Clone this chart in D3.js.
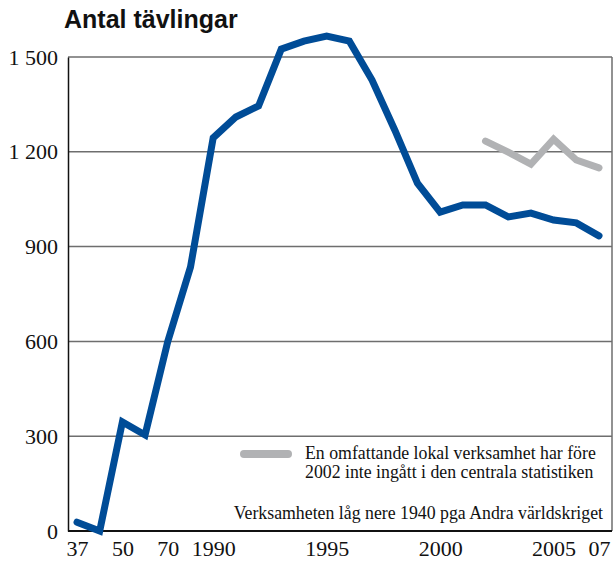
<!DOCTYPE html>
<html>
<head>
<meta charset="utf-8">
<script src="https://cdn.jsdelivr.net/npm/d3@7"></script>
<style>
  body { margin: 0; background: #fff; }
  svg { display: block; }
</style>
</head>
<body>
<div id="chart"></div>
<script>
// data
const years = ["1937", "1940", "1950", "1960", "1970", "1980", "1990", "1991", "1992", "1993", "1994", "1995",
  "1996", "1997", "1998", "1999", "2000", "2001", "2002", "2003", "2004", "2005", "2006", "2007"];
const total = [28, 0, 345, 304, 600, 835, 1244, 1310, 1345, 1525, 1550, 1566,
  1550, 1427, 1269, 1101, 1009, 1032, 1032, 994, 1006, 984, 975, 934];
const localYears = ["2002", "2003", "2004", "2005", "2006", "2007"];
const withLocal = [1234, 1199, 1161, 1240, 1174, 1149];
const xTickLabels = { "1937": "37", "1950": "50", "1970": "70", "1990": "1990", "1995": "1995", "2000": "2000", "2005": "2005", "2007": "07" };
const yTicks = [0, 300, 600, 900, 1200, 1500];

const width = 614, height = 565;
const plotLeft = 68, plotRight = 612, plotTop = 57, plotBottom = 531;

const svg = d3.select("#chart").append("svg")
  .attr("width", width)
  .attr("height", height);

const x = d3.scalePoint().domain(years).range([77, 599]);
const y = d3.scaleLinear().domain([0, 1500]).range([plotBottom, plotTop]);

const serif = "'Liberation Serif', 'DejaVu Serif', serif";

// title
svg.append("text")
  .attr("x", 64).attr("y", 28)
  .attr("font-family", "'Liberation Sans', Arial, sans-serif")
  .attr("font-weight", "bold")
  .attr("font-size", 25)
  .attr("fill", "#111")
  .text("Antal tävlingar");

// gridlines
svg.append("g")
  .selectAll("line")
  .data(yTicks.filter(d => d > 0))
  .join("line")
  .attr("x1", plotLeft).attr("x2", plotRight)
  .attr("y1", d => y(d)).attr("y2", d => y(d))
  .attr("stroke", "#6e6e6e")
  .attr("stroke-width", 1.5);

// right edge
svg.append("line")
  .attr("x1", plotRight).attr("x2", plotRight)
  .attr("y1", plotTop).attr("y2", plotBottom)
  .attr("stroke", "#6e6e6e")
  .attr("stroke-width", 1.5);

// y axis
const yAxis = svg.append("g")
  .attr("transform", "translate(" + plotLeft + ",0)")
  .call(d3.axisLeft(y).tickValues(yTicks).tickSize(0).tickPadding(10)
    .tickFormat(d => d3.format(",")(d).replace(",", " ")));
yAxis.select(".domain").attr("stroke", "#111").attr("stroke-width", 1.5);
yAxis.selectAll("text")
  .attr("font-family", serif)
  .attr("font-size", 22)
  .attr("fill", "#111");

// x axis
const xAxis = svg.append("g")
  .attr("transform", "translate(0," + plotBottom + ")")
  .call(d3.axisBottom(x).tickValues(Object.keys(xTickLabels)).tickSize(0).tickPadding(9)
    .tickFormat(d => xTickLabels[d]));
xAxis.select(".domain").attr("d", "M" + plotLeft + ",0H" + plotRight).attr("stroke", "#111").attr("stroke-width", 2);
xAxis.selectAll("text")
  .attr("font-family", serif)
  .attr("font-size", 22)
  .attr("fill", "#111");

const line = d3.line().x(d => x(d[0])).y(d => y(d[1]));

// main series
svg.append("path")
  .datum(years.map((yr, i) => [yr, total[i]]))
  .attr("d", line)
  .attr("fill", "none")
  .attr("stroke", "#004c97")
  .attr("stroke-width", 7)
  .attr("stroke-linejoin", "miter")
  .attr("stroke-linecap", "round");

// incl. local activity
svg.append("path")
  .datum(localYears.map((yr, i) => [yr, withLocal[i]]))
  .attr("d", line)
  .attr("fill", "none")
  .attr("stroke", "#b1b2b4")
  .attr("stroke-width", 7)
  .attr("stroke-linejoin", "miter")
  .attr("stroke-linecap", "round");

// legend
svg.append("line")
  .attr("x1", 244).attr("x2", 288)
  .attr("y1", 454).attr("y2", 454)
  .attr("stroke", "#b1b2b4")
  .attr("stroke-width", 8)
  .attr("stroke-linecap", "round");

const note = svg.append("text")
  .attr("font-family", serif)
  .attr("font-size", 17.8)
  .attr("fill", "#111");
note.append("tspan").attr("x", 305).attr("y", 459).text("En omfattande lokal verksamhet har före");
note.append("tspan").attr("x", 305).attr("y", 478).text("2002 inte ingått i den centrala statistiken");

svg.append("text")
  .attr("x", 603).attr("y", 519)
  .attr("text-anchor", "end")
  .attr("font-family", serif)
  .attr("font-size", 17.8)
  .attr("fill", "#111")
  .text("Verksamheten låg nere 1940 pga Andra världskriget");
</script>
</body>
</html>
